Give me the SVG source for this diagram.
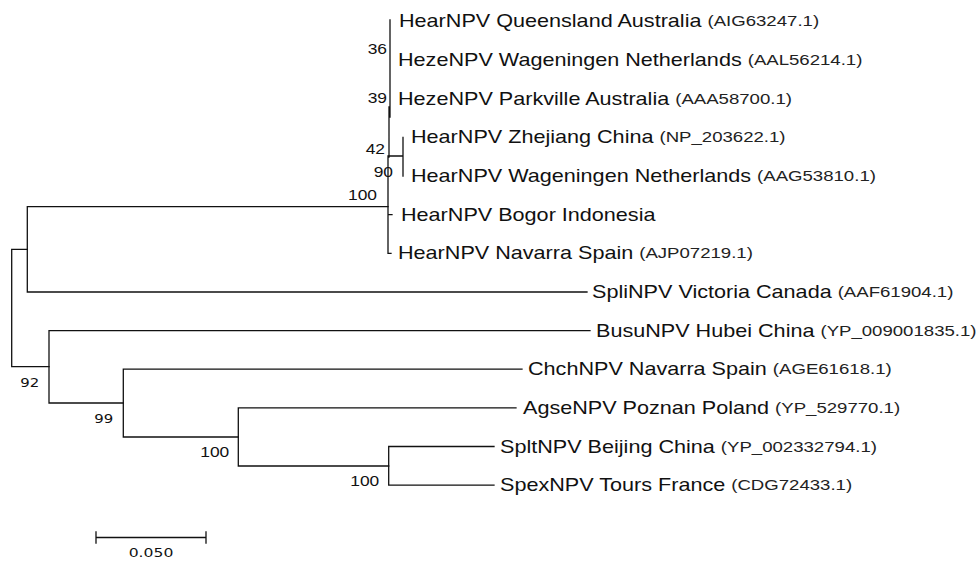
<svg xmlns="http://www.w3.org/2000/svg" width="979" height="561" viewBox="0 0 979 561">
<style>
.br{stroke:#111;stroke-width:1.3;fill:none;stroke-linecap:square}
.nm{font-family:"Liberation Sans",Arial,sans-serif;font-size:18px;fill:#111}
.ac{font-family:"Liberation Sans",Arial,sans-serif;font-size:15.5px;fill:#222}
.bs{font-family:"Liberation Sans",Arial,sans-serif;font-size:14.5px;fill:#111;text-anchor:end}
.bv{font-family:"DejaVu Sans",Verdana,sans-serif;font-size:13px;fill:#111;text-anchor:end}
</style>
<rect width="979" height="561" fill="#fff"/>
<g id="connectors" class="br">
<path d="M11.7 249.3V366.7M11.7 249.3H27.3M11.7 366.7H49"/>
<path d="M27.3 206.7V292H587M27.3 206.7H388"/>
<path d="M390 20V117M389 107V157M388 157V253.3H391M388 214.6H392M388 156H403M403 137.3V176"/>
<path d="M49 330.6V403M49 330.6H590M49 403H123.3"/>
<path d="M123.3 369.2V437M123.3 369.2H522M123.3 437H238.3"/>
<path d="M238.3 407.9V466M238.3 407.9H516M238.3 466H388.7"/>
<path d="M388.7 446.5V485.2M388.7 446.5H494M388.7 485.2H494"/>
<path d="M96 537.5H206M96 532V543M206 532V543"/>
</g>
<g id="leaf1"><text class="nm" transform="translate(399 27.4) scale(1.2 1)">HearNPV Queensland Australia <tspan class="ac" dy="-1">(AIG63247.1)</tspan></text></g>
<g id="leaf2"><text class="nm" transform="translate(398 66) scale(1.2 1)">HezeNPV Wageningen Netherlands <tspan class="ac" dy="-1">(AAL56214.1)</tspan></text></g>
<g id="leaf3"><text class="nm" transform="translate(398 104.7) scale(1.2 1)">HezeNPV Parkville Australia <tspan class="ac" dy="-1">(AAA58700.1)</tspan></text></g>
<g id="leaf4"><text class="nm" transform="translate(411 143.3) scale(1.2 1)">HearNPV Zhejiang China <tspan class="ac" dy="-1">(NP_203622.1)</tspan></text></g>
<g id="leaf5"><text class="nm" transform="translate(411 182) scale(1.2 1)">HearNPV Wageningen Netherlands <tspan class="ac" dy="-1">(AAG53810.1)</tspan></text></g>
<g id="leaf6"><text class="nm" transform="translate(401 220.6) scale(1.2 1)">HearNPV Bogor Indonesia</text></g>
<g id="leaf7"><text class="nm" transform="translate(398 259.3) scale(1.2 1)">HearNPV Navarra Spain <tspan class="ac" dy="-1">(AJP07219.1)</tspan></text></g>
<g id="leaf8"><text class="nm" transform="translate(592 298) scale(1.2 1)">SpliNPV Victoria Canada <tspan class="ac" dy="-1">(AAF61904.1)</tspan></text></g>
<g id="leaf9"><text class="nm" transform="translate(596 336.6) scale(1.2 1)">BusuNPV Hubei China <tspan class="ac" dy="-1">(YP_009001835.1)</tspan></text></g>
<g id="leaf10"><text class="nm" transform="translate(528 375.2) scale(1.2 1)">ChchNPV Navarra Spain <tspan class="ac" dy="-1">(AGE61618.1)</tspan></text></g>
<g id="leaf11"><text class="nm" transform="translate(523 413.9) scale(1.2 1)">AgseNPV Poznan Poland <tspan class="ac" dy="-1">(YP_529770.1)</tspan></text></g>
<g id="leaf12"><text class="nm" transform="translate(500 452.5) scale(1.2 1)">SpltNPV Beijing China <tspan class="ac" dy="-1">(YP_002332794.1)</tspan></text></g>
<g id="leaf13"><text class="nm" transform="translate(500 491.2) scale(1.2 1)">SpexNPV Tours France <tspan class="ac" dy="-1">(CDG72433.1)</tspan></text></g>
<g id="bootstrap">
<text class="bs" transform="translate(387 54) scale(1.2 1)">36</text>
<text class="bs" transform="translate(387 103) scale(1.2 1)">39</text>
<text class="bs" transform="translate(385 154) scale(1.2 1)">42</text>
<text class="bs" transform="translate(393 177) scale(1.2 1)">90</text>
<text class="bs" transform="translate(377 200) scale(1.2 1)">100</text>
<text class="bv" transform="translate(39.3 387) scale(1.15 1)">92</text>
<text class="bv" transform="translate(113.3 423) scale(1.15 1)">99</text>
<text class="bs" transform="translate(229.3 457) scale(1.2 1)">100</text>
<text class="bs" transform="translate(379.3 486) scale(1.2 1)">100</text>
</g>
<g id="scale"><text class="bv" style="text-anchor:middle" transform="translate(151 557) scale(1.2 1)">0.050</text></g>
</svg>
